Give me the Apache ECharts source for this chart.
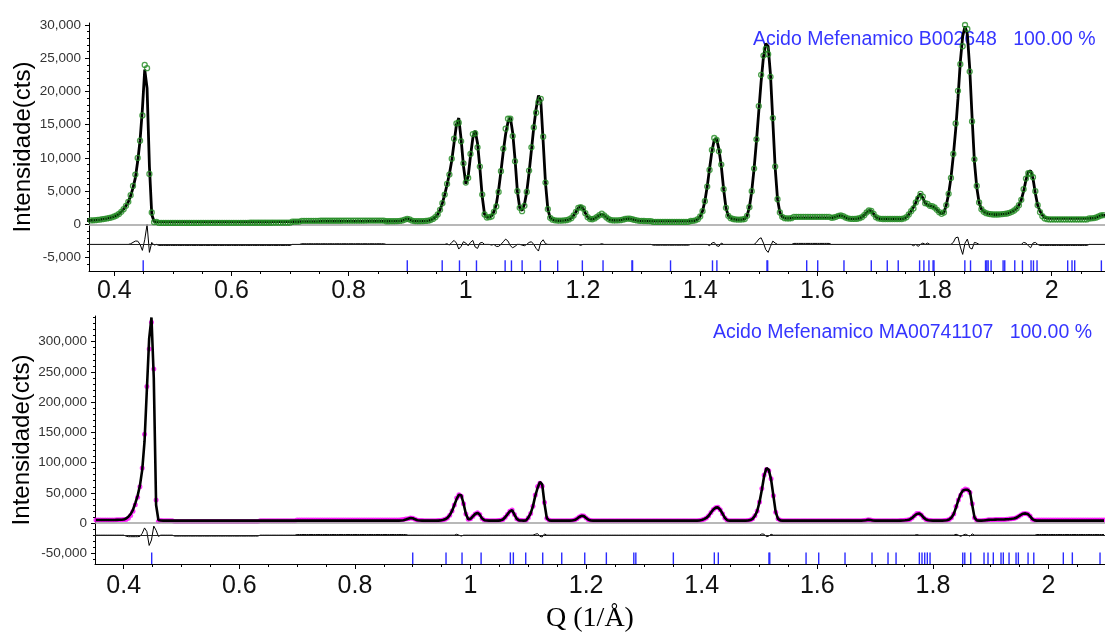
<!DOCTYPE html>
<html>
<head>
<meta charset="utf-8">
<script src="https://cdn.jsdelivr.net/npm/echarts@6/dist/echarts.min.js"></script>
<style>html,body{margin:0;padding:0;background:#fff}#c{width:1105px;height:635px}</style>
</head>
<body>
<div id="c"></div>
<script>
// ---- measurement grid (Q, 1/Å) ----
const qStart = 0.352, qStep = 0.004;

// ---- top panel: calculated profile (cts), 10 values per row, row start Q in comment ----
const calcTop = [
/*0.352*/ 560,580,600,620,650,700,740,790,850,910,
/*0.392*/ 980,1080,1200,1350,1580,1900,2300,2800,3400,4300,
/*0.432*/ 5500,7000,9500,12600,17300,23300,20500,8800,1500,450,
/*0.472*/ 390,380,380,380,380,380,380,380,380,380,
/*0.512*/ 380,380,380,380,380,380,380,380,380,380,
/*0.552*/ 390,390,390,390,390,390,390,390,390,390,
/*0.592*/ 400,400,400,400,400,400,400,400,400,400,
/*0.632*/ 410,410,410,410,410,410,410,410,410,410,
/*0.672*/ 420,420,420,420,420,420,420,420,420,420,
/*0.712*/ 440,440,440,440,440,440,440,440,440,440,
/*0.752*/ 460,460,460,460,460,460,460,460,460,460,
/*0.792*/ 470,470,470,470,470,470,470,470,470,470,
/*0.832*/ 480,480,480,480,480,480,480,480,480,480,
/*0.872*/ 490,490,500,510,530,600,740,850,760,590,
/*0.912*/ 510,490,490,500,510,530,570,660,830,1100,
/*0.952*/ 1500,2200,3200,4500,6000,7600,9600,12300,15000,16000,
/*0.992*/ 12800,8800,6100,7200,10300,13000,14100,12200,8500,4200,
/*1.032*/ 1500,1050,1100,1300,1900,3000,5200,8000,11000,13600,
/*1.072*/ 15400,16100,13800,9800,5000,2500,2100,3000,4900,7800,
/*1.112*/ 11200,14600,17400,19400,18600,12500,6200,2300,1000,720,
/*1.152*/ 620,580,570,580,600,650,750,950,1350,1900,
/*1.192*/ 2500,2750,2400,1700,1100,820,780,900,1150,1400,
/*1.232*/ 1520,1380,1050,780,650,600,600,620,650,720,
/*1.272*/ 820,880,860,780,680,600,550,530,520,510,
/*1.312*/ 500,500,500,500,500,500,500,500,500,500,
/*1.352*/ 500,500,500,500,500,500,500,510,520,540,
/*1.392*/ 620,800,1200,2000,3500,5700,8400,11000,12700,12900,
/*1.432*/ 11300,8800,5300,2500,1300,950,820,760,740,740,
/*1.472*/ 760,820,1300,2600,5000,8400,12500,17000,21500,25200,
/*1.512*/ 27200,26800,22500,15500,8500,3800,1800,1150,950,900,
/*1.552*/ 900,950,980,1000,1000,1000,1000,1000,1000,1000,
/*1.592*/ 1000,1000,1000,1000,1000,1000,1000,1000,1000,1050,
/*1.632*/ 1150,1300,1350,1250,1050,920,850,830,830,860,
/*1.672*/ 950,1100,1400,1800,2100,2050,1600,1100,900,840,
/*1.712*/ 820,820,820,820,820,820,820,820,820,900,
/*1.752*/ 1100,1500,2000,2600,3300,4200,4600,4000,3200,2900,
/*1.792*/ 2800,2750,2550,2200,1850,1600,1800,2900,4600,7000,
/*1.832*/ 10300,14200,19000,24500,28300,29800,28600,23500,16200,9500,
/*1.872*/ 5600,3300,2300,1900,1700,1600,1550,1500,1500,1500,
/*1.912*/ 1520,1560,1600,1650,1750,1900,2100,2400,2900,3700,
/*1.952*/ 5000,6700,7900,8100,6900,4700,2900,2000,1400,1050,
/*1.992*/ 950,900,900,900,900,900,900,900,900,900,
/*2.032*/ 900,900,900,900,900,900,900,900,900,920,
/*2.072*/ 960,1050,1200,1350,1400,1350,1300
];

const diffTop = [
 [0.428,100],[0.432,300],[0.436,500],[0.440,500],[0.448,-900],[0.452,700],[0.456,3000],[0.460,-1200],[0.464,300],[0.468,-100],
 [0.968,100],[0.972,-100],[0.976,300],[0.980,600],[0.984,200],[0.988,-700],[0.992,-300],[0.996,400],[1.000,200],[1.004,-200],
 [1.008,300],[1.012,600],[1.016,-400],[1.020,-600],[1.024,200],[1.028,300],
 [1.044,-100],[1.052,-300],[1.056,-300],[1.064,400],[1.068,800],[1.072,500],[1.076,-200],[1.080,-500],[1.084,-300],
 [1.096,-100],[1.100,-200],[1.108,300],[1.112,400],[1.120,-600],[1.124,-1000],[1.128,300],[1.132,700],[1.136,100],
 [1.196,-150],[1.232,100],
 [1.416,-200],[1.420,200],[1.424,300],[1.428,-200],[1.432,-300],[1.436,200],
 [1.496,300],[1.500,800],[1.504,1000],[1.508,200],[1.512,-800],[1.516,-1200],[1.520,-300],[1.524,500],[1.528,200],
 [1.764,-200],[1.772,-300],[1.780,200],[1.788,200],
 [1.832,300],[1.836,1000],[1.840,1100],[1.844,-400],[1.848,-1500],[1.852,200],[1.856,800],[1.860,-500],[1.864,-700],[1.868,300],[1.872,200],
 [1.952,300],[1.956,200],[1.960,-200],[1.964,-500],[1.968,200],[1.972,300]
];
// top panel: background stretches where observed sits slightly off the fit [Qfrom, Qto, cts]
const bgShiftTop = [[0.476,0.70,-150],[0.72,0.86,100],[1.32,1.38,-120],[1.56,1.62,150],[1.98,2.06,-150]];

// ---- bottom panel: calculated profile (cts) ----
const calcBottom = [
/*0.352*/ 5000,5000,5000,5000,5000,5000,5000,5000,5100,5300,
/*0.392*/ 5400,5600,5800,7500,10500,15000,22000,33000,45000,62000,
/*0.432*/ 88000,135000,220000,305000,340000,240000,30000,5000,4200,4000,
/*0.472*/ 4000,4000,4000,4000,4000,4000,4000,4000,4000,4000,
/*0.512*/ 4000,4000,4000,4000,4000,4000,4000,4000,4000,4000,
/*0.552*/ 4000,4000,4000,4000,4000,4000,4000,4000,4000,4000,
/*0.592*/ 4000,4000,4000,4000,4000,4000,4000,4000,4000,4000,
/*0.632*/ 4000,4000,4000,4000,4000,4000,4000,4000,4000,4000,
/*0.672*/ 4000,4000,4000,4000,4000,4000,4000,4000,4000,4000,
/*0.712*/ 4000,4000,4000,4000,4000,4000,4000,4000,4000,4000,
/*0.752*/ 4000,4000,4000,4000,4000,4000,4000,4000,4000,4000,
/*0.792*/ 4000,4000,4000,4000,4000,4000,4000,4000,4000,4000,
/*0.832*/ 4000,4000,4000,4000,4000,4000,4000,4000,4000,4000,
/*0.872*/ 4000,4100,4300,4800,5800,7200,8300,8000,6200,4800,
/*0.912*/ 4300,4100,4000,4000,4000,4000,4000,4000,4100,4400,
/*0.952*/ 5000,6200,8500,13000,20000,30000,40000,47000,46000,32000,
/*0.992*/ 15000,6500,7000,11000,15000,17000,14000,7500,4800,4200,
/*1.032*/ 4000,4000,4000,4000,4100,4500,6000,9500,14500,19500,
/*1.072*/ 21500,14000,7000,4500,4200,4000,4200,9000,16000,28000,
/*1.112*/ 45000,58000,68000,64000,32000,8000,4500,4000,4000,4000,
/*1.152*/ 4000,4000,4000,4000,4000,4000,4200,5000,7000,10000,
/*1.192*/ 12000,11500,8500,5500,4300,4000,4000,4000,4000,4000,
/*1.232*/ 4000,4000,4000,4000,4000,4000,4000,4000,4000,4000,
/*1.272*/ 4000,4000,4000,4000,4000,4000,4000,4000,4000,4000,
/*1.312*/ 4000,4000,4000,4000,4000,4000,4000,4000,4000,4000,
/*1.352*/ 4000,4000,4000,4000,4000,4000,4000,4000,4000,4000,
/*1.392*/ 4000,4200,5000,6500,8500,12000,17500,22500,25500,26000,
/*1.432*/ 22000,15500,8500,4800,4000,4000,4000,4000,4000,4000,
/*1.472*/ 4000,4000,4200,5000,7000,12000,20000,35000,55000,78000,
/*1.512*/ 91000,88000,72000,45000,18000,7000,4500,4000,4000,4000,
/*1.552*/ 4000,4000,4000,4000,4000,4000,4000,4000,4000,4000,
/*1.592*/ 4000,4000,4000,4000,4000,4000,4000,4000,4000,4000,
/*1.632*/ 4000,4000,4000,4000,4000,4000,4000,4000,4000,4000,
/*1.672*/ 4000,4000,4200,4800,5500,5000,4300,4000,4000,4000,
/*1.712*/ 4000,4000,4000,4000,4000,4000,4000,4000,4100,4300,
/*1.752*/ 4600,5000,6000,8500,12000,15000,16000,13500,9000,6000,
/*1.792*/ 4800,4300,4000,4000,4000,4000,4000,4200,4800,6000,
/*1.832*/ 9000,15000,26000,38000,48000,54000,55000,55000,52000,30000,
/*1.872*/ 9000,4200,4000,4000,4200,4800,5300,5500,5600,5700,
/*1.912*/ 5800,5900,6000,6100,6300,6600,7000,7600,8600,11000,
/*1.952*/ 13500,15500,16000,15000,11500,6500,4500,4000,4000,4000,
/*1.992*/ 4000,4000,4000,4000,4000,4000,4000,4000,4000,4000,
/*2.032*/ 4000,4000,4000,4000,4000,4000,4000,4000,4000,4000,
/*2.072*/ 4000,4000,4000,4000,4000,4000,4000
];
const diffBottom = [
 [0.404,-1500],[0.408,-2500],[0.412,-2500],[0.416,-2500],[0.420,-2500],[0.424,-2500],[0.428,-2000],
 [0.432,3000],[0.436,12000],[0.440,6000],[0.444,-17000],[0.448,-8000],[0.452,15000],[0.456,8000],[0.460,-2000],
 [0.976,1500],[0.984,-1500],
 [1.112,1500],[1.116,2500],[1.120,-2000],[1.124,-3000],[1.128,2000],
 [1.504,2000],[1.508,1500],[1.512,-2500],[1.516,-1500],[1.520,1500],
 [1.772,1000],
 [1.840,1500],[1.848,-2000],[1.856,1500],[1.864,-1500],[1.868,2000]
];
const bgShiftBottom = [[0.488,0.632,-1500],[0.70,0.89,1000],[1.98,2.096,1000]];

// ---- reflection positions (Q) ----
const reflTop = [0.4494,0.9001,0.9597,0.9892,1.0182,1.0671,1.0779,1.0961,1.1273,1.1568,1.1989,1.2342,1.2836,1.2846,1.3494,
 1.4210,1.4285,1.5140,1.5152,1.5818,1.6006,1.6454,1.6920,1.7193,1.7380,1.7745,1.7818,1.7904,1.7975,1.7990,1.8517,1.8614,
 1.8870,1.8892,1.8915,1.8965,1.9170,1.9198,1.9369,1.9500,1.9647,1.9688,1.9749,2.0272,2.0346,2.0392,2.0847];
const reflBottom = [0.4484,0.9000,0.9576,0.9853,1.0183,1.0689,1.0741,1.0955,1.1249,1.1578,1.1976,1.2350,1.2825,1.2860,1.3509,
 1.4218,1.4287,1.5163,1.5177,1.5805,1.6024,1.6479,1.6946,1.7223,1.7362,1.7765,1.7811,1.7858,1.7903,1.7950,1.8516,1.8551,
 1.8654,1.8884,1.8953,1.9045,1.9178,1.9218,1.9317,1.9438,1.9478,1.9646,1.9745,2.0256,2.0412,2.0891];

// ---- tick labels ----
const xTickLabels = [0.4,0.6,0.8,1,1.2,1.4,1.6,1.8,2];
const xMinorTicks = [0.35,0.45,0.5,0.55,0.65,0.7,0.75,0.85,0.9,0.95,1.05,1.1,1.15,1.25,1.3,1.35,1.45,1.5,1.55,1.65,1.7,1.75,1.85,1.9,1.95,2.05];
const yTickLabelsTop = [-5000,0,5000,10000,15000,20000,25000,30000];
const yMinorTop = [-6000,-4000,-3000,-2000,-1000,1000,2000,3000,4000,6000,7000,8000,9000,11000,12000,13000,14000,16000,17000,18000,19000,21000,22000,23000,24000,26000,27000,28000,29000];
const yTickLabelsBottom = [-50000,0,50000,100000,150000,200000,250000,300000];
const yMinorBottom = [-60000,-40000,-30000,-20000,-10000,10000,20000,30000,40000,60000,70000,80000,90000,110000,120000,130000,140000,160000,170000,180000,190000,210000,220000,230000,240000,260000,270000,280000,290000,310000,320000,330000,340000];

const phaseTop = 'Acido Mefenamico B002648   100.00 %';
const phaseBottom = 'Acido Mefenamico MA00741107   100.00 %';
const yTitle = 'Intensidade(cts)';
const xTitle = 'Q (1/Å)';

// ---- build ----
const Q = calcTop.map((_, i) => +(qStart + qStep * i).toFixed(3));
function diffOnGrid(pairs, shifts) {
  const m = new Map(pairs.map(p => [p[0].toFixed(3), p[1]]));
  return Q.map(q => {
    const k = q.toFixed(3);
    if (m.has(k)) return m.get(k);
    for (const s of shifts) if (q >= s[0] && q <= s[1]) return s[2];
    return 0;
  });
}

const panels = [
  { calc: calcTop, diff: diffOnGrid(diffTop, bgShiftTop), refl: reflTop,
    xMin: 0.3569, xMax: 2.0909, yMin: -7000, yMax: 30300, diffBase: -3000, tickTop: -5400,
    yLabels: yTickLabelsTop, yMinor: yMinorTop,
    grid: { left: 89, top: 23, width: 1016, height: 248 }, xLabelMargin: 8, lineWidth: 2.8,
    obs: { size: 5, z: 5, style: { color: 'rgba(0,0,0,0)', borderColor: '#228b22', borderWidth: 1.3 } } },
  { calc: calcBottom, diff: diffOnGrid(diffBottom, bgShiftBottom), refl: reflBottom,
    xMin: 0.3503, xMax: 2.0977, yMin: -67700, yMax: 342500, diffBase: -20000, tickTop: -48500,
    yLabels: yTickLabelsBottom, yMinor: yMinorBottom,
    grid: { left: 95, top: 316, width: 1010, height: 248 }, xLabelMargin: 10, lineWidth: 2.6,
    obs: { size: 5, z: 2, style: { color: '#ff00ff' } } }
];

const option = {
  animation: false,
  backgroundColor: '#fff',
  textStyle: { fontFamily: '"Liberation Sans", Arial, sans-serif' },
  grid: [], xAxis: [], yAxis: [], series: [],
  graphic: []
};

panels.forEach((p, g) => {
  option.grid.push(Object.assign({ containLabel: false }, p.grid));
  const xa = 2 * g, ya = 2 * g;
  option.xAxis.push({
    type: 'value', gridIndex: g, min: p.xMin, max: p.xMax, position: 'bottom',
    axisLine: { show: true, onZero: false, lineStyle: { color: '#000', width: 1 } },
    axisTick: { show: true, length: 5, customValues: xTickLabels, lineStyle: { color: '#000', width: 1 } },
    axisLabel: { customValues: xTickLabels, fontSize: 25, color: '#111', margin: p.xLabelMargin,
      formatter: v => String(Math.round(v * 10) / 10) },
    splitLine: { show: false }
  });
  option.xAxis.push({
    type: 'value', gridIndex: g, min: p.xMin, max: p.xMax, position: 'bottom',
    axisLine: { show: false, onZero: false },
    axisTick: { show: true, length: 3, customValues: xMinorTicks, lineStyle: { color: '#000', width: 1 } },
    axisLabel: { show: false }, splitLine: { show: false }
  });
  option.yAxis.push({
    type: 'value', gridIndex: g, min: p.yMin, max: p.yMax, position: 'left',
    axisLine: { show: true, onZero: false, lineStyle: { color: '#000', width: 1 } },
    axisTick: { show: true, length: 4, customValues: p.yLabels, lineStyle: { color: '#000', width: 1 } },
    axisLabel: { customValues: p.yLabels, fontSize: 13.5, color: '#333', margin: 8,
      formatter: v => Number(v).toLocaleString('en-US') },
    splitLine: { show: false }
  });
  option.yAxis.push({
    type: 'value', gridIndex: g, min: p.yMin, max: p.yMax, position: 'left',
    axisLine: { show: false, onZero: false },
    axisTick: { show: true, length: 2, customValues: p.yMinor, lineStyle: { color: '#000', width: 1 } },
    axisLabel: { show: false }, splitLine: { show: false }
  });

  const calcData = Q.map((q, i) => [q, p.calc[i]]);
  const obsData = Q.map((q, i) => [q, p.calc[i] + p.diff[i]]);
  const diffData = Q.map((q, i) => [q, p.diffBase + p.diff[i]]);

  // reference lines (zero + difference baseline)
  option.series.push({
    type: 'line', xAxisIndex: xa, yAxisIndex: ya, data: [], z: 1, silent: true,
    markLine: {
      silent: true, symbol: 'none', label: { show: false }, animation: false,
      data: [
        { yAxis: 0, lineStyle: { color: '#a0a0a0', width: 1.5, type: 'solid' } },
        { yAxis: p.diffBase, lineStyle: { color: '#222', width: 1, type: 'solid' } }
      ]
    }
  });
  // calculated profile
  option.series.push({
    type: 'line', xAxisIndex: xa, yAxisIndex: ya, data: calcData, showSymbol: false, z: 4,
    lineStyle: { color: '#000', width: p.lineWidth }, silent: true
  });
  // observed points
  option.series.push({
    type: 'scatter', xAxisIndex: xa, yAxisIndex: ya, data: obsData, symbol: 'circle',
    symbolSize: p.obs.size, z: p.obs.z, silent: true, itemStyle: p.obs.style
  });
  // difference curve
  option.series.push({
    type: 'line', xAxisIndex: xa, yAxisIndex: ya, data: diffData, showSymbol: false, z: 3,
    lineStyle: { color: '#000', width: 1 }, silent: true
  });
  // reflection markers
  option.series.push({
    type: 'custom', xAxisIndex: xa, yAxisIndex: ya, silent: true, z: 3,
    data: p.refl.map(q => [q, p.tickTop, p.yMin]),
    encode: { x: 0, y: [1, 2] },
    renderItem: (params, api) => {
      const a = api.coord([api.value(0), api.value(1)]);
      const b = api.coord([api.value(0), api.value(2)]);
      return { type: 'line', shape: { x1: a[0], y1: a[1], x2: b[0], y2: b[1] },
               style: { stroke: '#2b2bff', lineWidth: 1.4 } };
    }
  });
});

option.graphic = [
  { type: 'text', x: 753, y: 40, silent: true,
    style: { text: phaseTop, fill: '#3535ff', font: '19.5px "Liberation Sans", Arial', align: 'left', verticalAlign: 'middle' } },
  { type: 'text', x: 713, y: 333, silent: true,
    style: { text: phaseBottom, fill: '#3535ff', font: '19.5px "Liberation Sans", Arial', align: 'left', verticalAlign: 'middle' } },
  { type: 'text', x: 23, y: 147, rotation: Math.PI / 2, silent: true,
    style: { text: yTitle, fill: '#000', font: '24px "Liberation Sans", Arial', align: 'center', verticalAlign: 'middle' } },
  { type: 'text', x: 22, y: 440, rotation: Math.PI / 2, silent: true,
    style: { text: yTitle, fill: '#000', font: '24px "Liberation Sans", Arial', align: 'center', verticalAlign: 'middle' } },
  { type: 'text', x: 590, y: 619, silent: true,
    style: { text: xTitle, fill: '#000', font: '28px "Liberation Serif", "Times New Roman", serif', align: 'center', verticalAlign: 'middle' } }
];

const chart = echarts.init(document.getElementById('c'), null, { renderer: 'canvas' });
chart.setOption(option);
</script>
</body>
</html>
